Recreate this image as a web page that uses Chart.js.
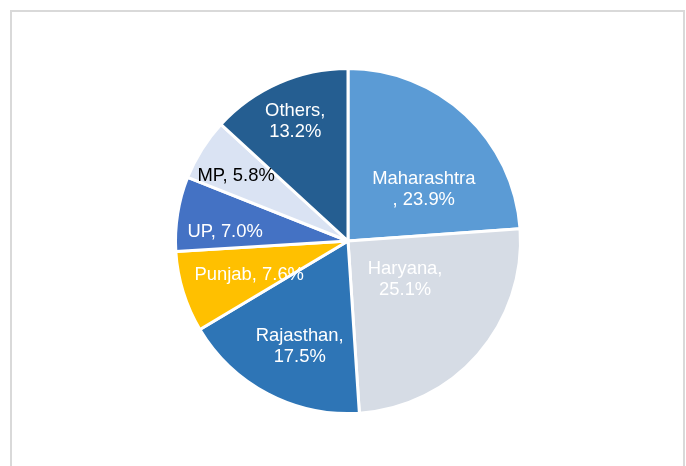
<!DOCTYPE html>
<html>
<head>
<meta charset="utf-8">
<script src="https://cdn.jsdelivr.net/npm/chart.js@4"></script>
<style>
  html, body { margin: 0; padding: 0; background: #fff; }
  body { width: 686px; height: 466px; position: relative; overflow: hidden; }
  .frame {
    position: absolute; left: 10px; top: 10px; width: 675px; height: 470px;
    border: 2px solid #d9d9d9; box-sizing: border-box;
  }
  .chart-box { position: absolute; left: 0; top: 0; width: 686px; height: 466px; }
</style>
</head>
<body>
<div class="frame"></div>
<div class="chart-box"><canvas id="stateChart"></canvas></div>
<script>
// Share by state (%), clockwise from 12 o'clock
const states = ["Maharashtra", "Haryana", "Rajasthan", "Punjab", "UP", "MP", "Others"];
const shares = [23.9, 25.1, 17.5, 7.6, 7.0, 5.8, 13.2];

const sliceColors = ["#5B9BD5", "#D6DCE5", "#2E75B6", "#FFC000", "#4472C4", "#DAE3F3", "#255E91"];
const labelColors = ["#fff", "#fff", "#fff", "#fff", "#fff", "#000", "#fff"];
// where the label line breaks: before the comma, after it, or not at all
const labelBreak = ["before", "after", "after", "none", "none", "none", "after"];
// label placement: fraction of radius and angle nudge (deg) from slice middle
const labelRadius = [0.53, 0.40, 0.67, 0.606, 0.714, 0.75, 0.76];
const labelNudge = [13, -7, -3, -2, -5, -2, 0];

function labelLines(i) {
  const name = states[i];
  const val = shares[i].toFixed(1) + "%";
  if (labelBreak[i] === "before") return [name, ", " + val];
  if (labelBreak[i] === "after") return [name + ",", val];
  return [name + ", " + val];
}

const sliceLabels = {
  id: "sliceLabels",
  afterDatasetsDraw(chart) {
    const ctx = chart.ctx;
    const arcs = chart.getDatasetMeta(0).data;
    ctx.save();
    ctx.font = "18.4px 'Liberation Sans', Arial, sans-serif";
    ctx.textAlign = "center";
    ctx.textBaseline = "middle";
    arcs.forEach((arc, i) => {
      const p = arc.getProps(["x", "y", "startAngle", "endAngle", "outerRadius"], true);
      const mid = (p.startAngle + p.endAngle) / 2 + labelNudge[i] * Math.PI / 180;
      const r = p.outerRadius * labelRadius[i];
      const cx = p.x + r * Math.cos(mid);
      const cy = p.y + r * Math.sin(mid);
      const lines = labelLines(i);
      const lh = 21;
      ctx.fillStyle = labelColors[i];
      lines.forEach((t, k) => {
        ctx.fillText(t, cx, cy + (k - (lines.length - 1) / 2) * lh);
      });
    });
    ctx.restore();
  }
};

new Chart(document.getElementById("stateChart"), {
  type: "pie",
  data: {
    labels: states,
    datasets: [{
      data: shares,
      backgroundColor: sliceColors,
      borderColor: "#fff",
      borderWidth: 3
    }]
  },
  options: {
    responsive: true,
    maintainAspectRatio: false,
    animation: false,
    layout: { padding: { top: 67, bottom: 51, left: 174, right: 164 } },
    plugins: {
      legend: { display: false },
      tooltip: { enabled: false }
    }
  },
  plugins: [sliceLabels]
});
</script>
</body>
</html>
